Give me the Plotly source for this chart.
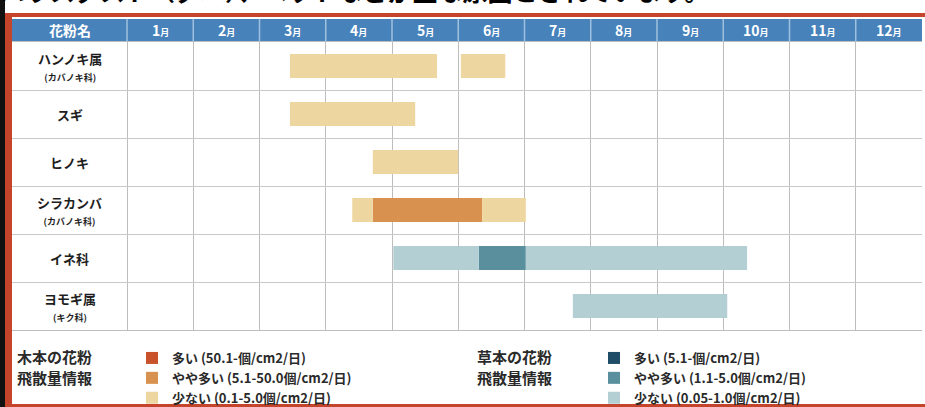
import plotly.graph_objects as go

# ---------------- data ----------------
plants = ["ハンノキ属", "スギ", "ヒノキ", "シラカンバ", "イネ科", "ヨモギ属"]
plant_notes = ["(カバノキ科)", "", "", "(カバノキ科)", "", "(キク科)"]
months = ["1", "2", "3", "4", "5", "6", "7", "8", "9", "10", "11", "12"]

# month positions: 0 = start of January, 12 = end of December
wood_low_plant = ["ハンノキ属", "ハンノキ属", "スギ", "ヒノキ", "シラカンバ", "シラカンバ"]
wood_low_start = [2.46, 5.04, 2.46, 3.71, 3.40, 5.36]
wood_low_end = [4.68, 5.71, 4.35, 5.00, 3.71, 6.02]

wood_mid_plant = ["シラカンバ"]
wood_mid_start = [3.71]
wood_mid_end = [5.36]

wood_high_plant = [None]      # no period with this level (legend only)
wood_high_start = [None]
wood_high_end = [None]

grass_low_plant = ["イネ科", "イネ科", "ヨモギ属"]
grass_low_start = [4.02, 6.02, 6.73]
grass_low_end = [5.31, 9.36, 9.06]

grass_mid_plant = ["イネ科"]
grass_mid_start = [5.31]
grass_mid_end = [6.02]

grass_high_plant = [None]     # no period with this level (legend only)
grass_high_start = [None]
grass_high_end = [None]

wood_labels = ["多い (50.1-個/cm2/日)", "やや多い (5.1-50.0個/cm2/日)", "少ない (0.1-5.0個/cm2/日)"]
grass_labels = ["多い (5.1-個/cm2/日)", "やや多い (1.1-5.0個/cm2/日)", "少ない (0.05-1.0個/cm2/日)"]
wood_title = ["木本の花粉", "飛散量情報"]
grass_title = ["草本の花粉", "飛散量情報"]
title_text = "ハウスダスト（ダニ）、ペットなどが主な原因とされています。"

# ---------------- styles ----------------
FONT = "Noto Sans CJK JP"
W, H = 925, 407
L, R, T, B = 12, 3, 42, 77
PW, PH = W - L - R, H - T - B
MONTH_PX = 66.25
XMIN = -(127 - L) / MONTH_PX
HEADER_PX = 23

wood_colors = ["#c9522c", "#d8914f", "#eed6a0"]
grass_colors = ["#1f4d68", "#5a909e", "#b3cfd4"]
TEXT = "#2a2a2a"
RED = "#c4452c"


def px_x(p):
    return (p - L) / PW


def px_y(p):
    return (H - B - p) / PH


fig = go.Figure()


def add_bars(plant, start, end, color, name, legend):
    widths = [None if s is None else e - s for s, e in zip(start, end)]
    fig.add_trace(go.Bar(
        y=plant,
        x=widths,
        base=start,
        orientation="h",
        width=0.5,
        marker=dict(color=color, line=dict(width=0)),
        name=name,
        legend=legend,
        hoverinfo="skip",
    ))


add_bars(wood_high_plant, wood_high_start, wood_high_end, wood_colors[0], wood_labels[0], "legend")
add_bars(wood_mid_plant, wood_mid_start, wood_mid_end, wood_colors[1], wood_labels[1], "legend")
add_bars(wood_low_plant, wood_low_start, wood_low_end, wood_colors[2], wood_labels[2], "legend")
add_bars(grass_high_plant, grass_high_start, grass_high_end, grass_colors[0], grass_labels[0], "legend2")
add_bars(grass_mid_plant, grass_mid_start, grass_mid_end, grass_colors[1], grass_labels[1], "legend2")
add_bars(grass_low_plant, grass_low_start, grass_low_end, grass_colors[2], grass_labels[2], "legend2")

annotations = []
# row labels
for p, note in zip(plants, plant_notes):
    txt = f"<b>{p}</b>"
    if note:
        txt += f"<br><span style='font-size:9px'><b>{note}</b></span>"
    annotations.append(dict(x=XMIN / 2, y=p, xref="x", yref="y", text=txt,
                            showarrow=False, xanchor="center", yanchor="middle",
                            font=dict(family=FONT, size=13, color="#1e1e1e"), align="center"))
# header labels
hy = 1 + (HEADER_PX / 2) / PH
annotations.append(dict(x=XMIN / 2, y=hy, xref="x", yref="paper", text="<b>花粉名</b>",
                        showarrow=False, xanchor="center", yanchor="middle",
                        font=dict(family=FONT, size=14, color="white")))
for i, m in enumerate(months):
    annotations.append(dict(x=i + 0.5, y=hy, xref="x", yref="paper",
                            text=f"<b>{m}<span style='font-size:9px'>月</span></b>",
                            showarrow=False, xanchor="center", yanchor="middle",
                            font=dict(family=FONT, size=14, color="white")))
# legend titles
for lines, xp in ((wood_title, 15), (grass_title, 475)):
    for k, line in enumerate(lines):
        annotations.append(dict(x=px_x(xp), y=px_y(356 + 21 * k), xref="paper", yref="paper",
                                text=f"<b>{line}</b>", showarrow=False, xanchor="left",
                                yanchor="middle", font=dict(family=FONT, size=15, color=TEXT)))
# cut-off title text at the very top
annotations.append(dict(x=px_x(-2), y=px_y(10), xref="paper", yref="paper", text=title_text,
                        showarrow=False, xanchor="left", yanchor="bottom",
                        font=dict(family=FONT, size=25, color="black", weight="bold")))

shapes = []
# header band
shapes.append(dict(type="rect", xref="paper", yref="paper", x0=0, x1=1, y0=1, y1=1 + HEADER_PX / PH,
                   fillcolor="#4782bb", line=dict(width=0), layer="below"))
for i in range(12):
    shapes.append(dict(type="line", xref="x", yref="paper", x0=i, x1=i, y0=1, y1=1 + HEADER_PX / PH,
                       line=dict(color="#9fc0de", width=1.5)))
# scan frame: black strip and red border
shapes.append(dict(type="rect", xref="paper", yref="paper", x0=px_x(-2), x1=px_x(5),
                   y0=px_y(H + 2), y1=px_y(-2), fillcolor="#111111", line=dict(width=0)))
shapes.append(dict(type="rect", xref="paper", yref="paper", x0=px_x(5), x1=px_x(12),
                   y0=px_y(H + 2), y1=px_y(13), fillcolor=RED, line=dict(width=0)))
shapes.append(dict(type="line", xref="paper", yref="paper", x0=px_x(5), x1=px_x(W + 5),
                   y0=px_y(15), y1=px_y(15), line=dict(color=RED, width=4)))
shapes.append(dict(type="line", xref="paper", yref="paper", x0=px_x(5), x1=px_x(W + 5),
                   y0=px_y(405.5), y1=px_y(405.5), line=dict(color=RED, width=3)))

legend_common = dict(
    orientation="v", xanchor="left", yanchor="top", bgcolor="rgba(0,0,0,0)",
    font=dict(family=FONT, size=13, color=TEXT, weight="bold"),
    itemclick=False, itemdoubleclick=False, tracegroupgap=0,
)

fig.update_layout(
    width=W, height=H,
    margin=dict(l=L, r=R, t=T, b=B, autoexpand=False),
    paper_bgcolor="white", plot_bgcolor="white",
    barmode="overlay",
    showlegend=True,
    xaxis=dict(range=[XMIN, 12], tickvals=list(range(0, 13)), showticklabels=False,
               showgrid=True, gridcolor="#bdbdbd", gridwidth=1, zeroline=False,
               showline=True, linecolor="#bdbdbd", mirror=True, fixedrange=True),
    yaxis=dict(type="category", categoryorder="array", categoryarray=plants,
               range=[5.5, -0.5], showticklabels=False, tickson="boundaries",
               showgrid=True, gridcolor="#c8c8c8", gridwidth=1, zeroline=False,
               ticks="", fixedrange=True),
    legend=dict(x=px_x(132), y=px_y(343), **legend_common),
    legend2=dict(x=px_x(594), y=px_y(343), **legend_common),
    annotations=annotations,
    shapes=shapes,
)

fig.write_html("out.html", config={"displayModeBar": False},
               post_script="document.body.style.margin='0';document.body.style.padding='0';")
